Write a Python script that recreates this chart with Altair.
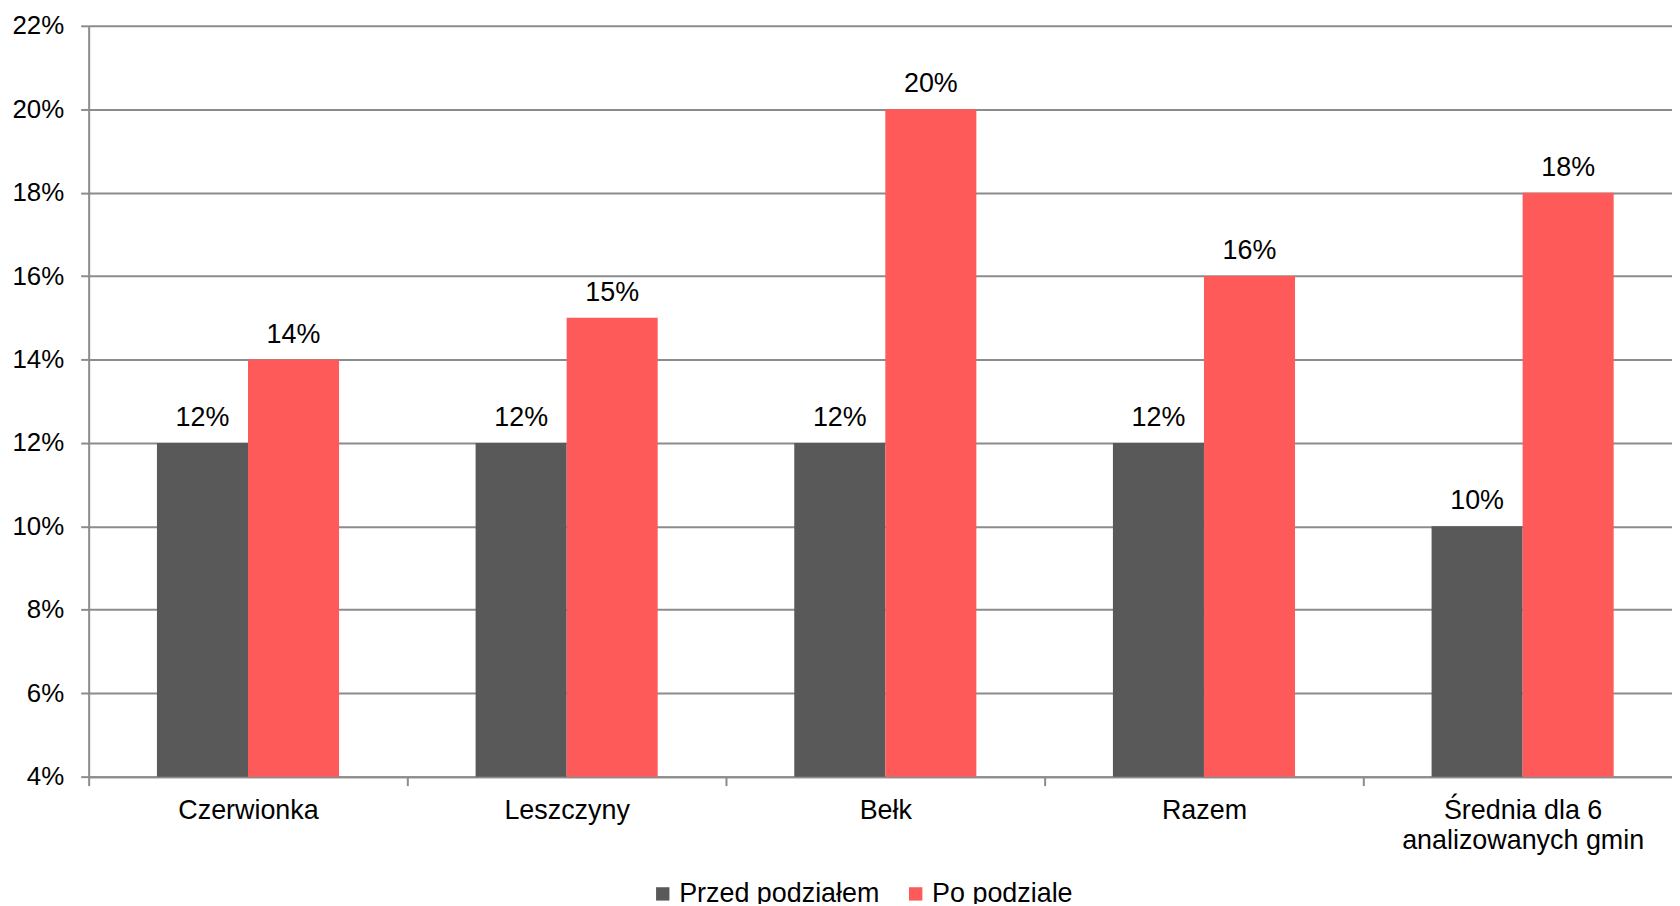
import altair as alt
import pandas as pd

categories = ["Czerwionka", "Leszczyny", "Bełk", "Razem", "Średnia dla 6 analizowanych gmin"]
series = ["Przed podziałem", "Po podziale"]
przed = [12, 12, 12, 12, 10]
po = [14, 15, 20, 16, 18]
colors = ["#595959", "#FF5A5A"]
y_ticks = [4, 6, 8, 10, 12, 14, 16, 18, 20, 22]

rows = []
for c, a, b in zip(categories, przed, po):
    rows.append({"cat": c, "series": series[0], "value": a})
    rows.append({"cat": c, "series": series[1], "value": b})
df = pd.DataFrame(rows)
df["label"] = df["value"].astype(str) + "%"

FONT = "Liberation Sans"
GRAY = "#8c8c8c"
FS = 27

x = alt.X(
    "cat:N", sort=categories, title=None,
    scale=alt.Scale(paddingInner=0, paddingOuter=0),
    axis=alt.Axis(
        labelAngle=0, tickBand="extent", grid=False, labelLimit=0,
        domainColor=GRAY, domainWidth=2, tickColor=GRAY, tickWidth=2, tickSize=9,
        labelFont=FONT, labelFontSize=FS, labelColor="#000000", labelPadding=12,
        labelLineHeight=30,
        labelExpr="datum.value == 'Średnia dla 6 analizowanych gmin' ? ['Średnia dla 6', 'analizowanych gmin'] : datum.value",
    ),
)
xo = alt.XOffset("series:N", sort=series, scale=alt.Scale(paddingInner=0, paddingOuter=0.75))
y = alt.Y(
    "value:Q", title=None,
    scale=alt.Scale(domain=[4, 22], nice=False, zero=False),
    axis=alt.Axis(
        values=y_ticks, labelExpr="datum.value + '%'",
        grid=True, gridColor=GRAY, gridWidth=2,
        domainColor=GRAY, domainWidth=2, tickColor=GRAY, tickWidth=2, tickSize=8,
        labelFont=FONT, labelFontSize=26, labelColor="#000000", labelPadding=17,
    ),
)

bars = alt.Chart(df).mark_bar().encode(
    x=x, xOffset=xo, y=y, y2=alt.datum(4),
    color=alt.Color(
        "series:N", sort=series,
        scale=alt.Scale(domain=series, range=colors),
        legend=alt.Legend(
            title=None, orient="none", direction="horizontal",
            legendX=563, legendY=858, labelLimit=0,
            symbolType="square", symbolSize=180, symbolStrokeWidth=0,
            labelFont=FONT, labelFontSize=FS, labelColor="#000000",
            labelOffset=3, columnPadding=22,
        ),
    ),
)

text = alt.Chart(df).mark_text(
    font=FONT, fontSize=FS, color="#000000", baseline="alphabetic", dy=-17
).encode(x=x, xOffset=xo, y=y, text="label:N")

chart = (
    alt.layer(bars, text)
    .properties(
        width=1600, height=754,
        autosize=alt.AutoSizeParams(type="none"),
        padding={"left": 81, "top": 16, "right": -10, "bottom": 126},
        background="white",
    )
    .configure_view(stroke=None)
)

chart.save("out.html", embed_options={"renderer": "svg", "actions": False})
